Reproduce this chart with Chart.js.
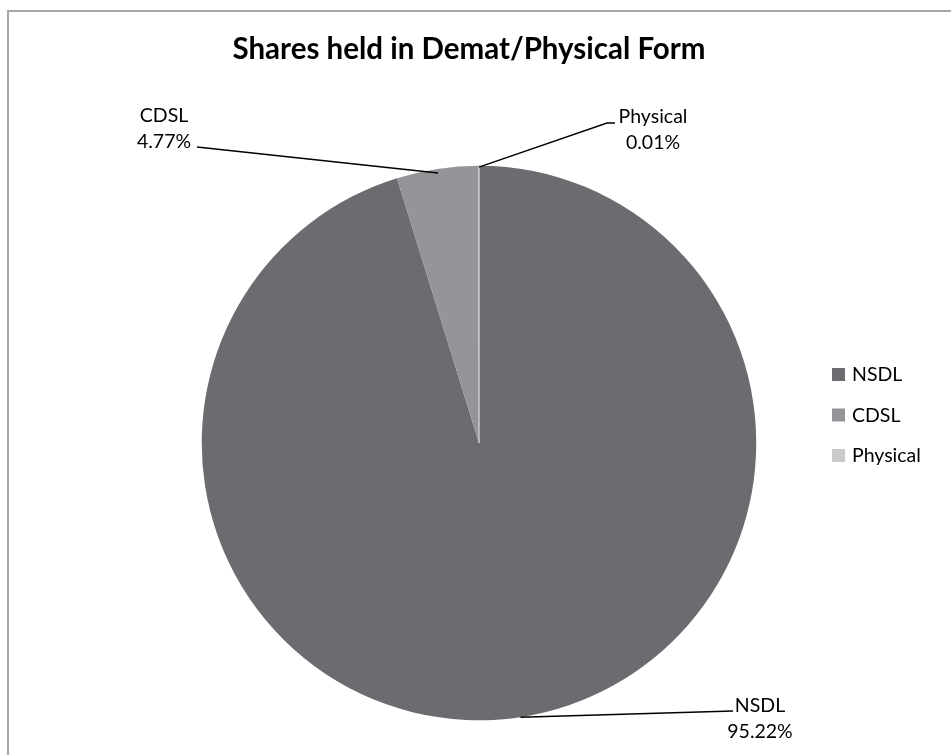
<!DOCTYPE html>
<html>
<head>
<meta charset="utf-8">
<title>Shares held in Demat/Physical Form</title>
<script src="https://cdn.jsdelivr.net/npm/chart.js@4/dist/chart.umd.min.js"></script>
<style>
html, body { margin: 0; padding: 0; background: #fff; }
#wrap { position: relative; width: 951px; height: 755px; overflow: hidden; }
</style>
</head>
<body>
<div id="wrap"><canvas id="myChart" width="951" height="755"></canvas></div>
<script>
var categories = ['NSDL', 'CDSL', 'Physical'];
var shares = [95.22, 4.77, 0.01];
var sliceColors = ['#6b6c70', '#949598', '#c9cacc'];
var chartTitle = 'Shares held in Demat/Physical Form';

// data label placement: how far in the slice the leader starts, its bends, text centre + baseline
var labelSpots = [
    {reach: 1.0,   path: [[733, 711]],             text: [760, 712]},
    {reach: 0.985, path: [[197, 147]],             text: [164, 122]},
    {reach: 0.995, path: [[607, 123], [615, 123]], text: [653, 123]}
];
var labelFont = '19.5px Lato';

    //title, frame, leader lines, data labels and legend
var extras = {
    id: 'extras',
    afterDraw: function(chart) {
        var ctx = chart.ctx;
        var total = shares.reduce(function(a, b) { return a + b; }, 0);
        ctx.save();

        ctx.strokeStyle = '#a6a6a6';
        ctx.lineWidth = 2;
        ctx.strokeRect(8, 11, 1200, 1200);

        ctx.fillStyle = '#000';
        ctx.textAlign = 'center';
        ctx.textBaseline = 'alphabetic';
        ctx.font = 'bold 29.5px Lato';
        ctx.fillText(chartTitle, 469, 59);

        var arcs = chart.getDatasetMeta(0).data;
        ctx.font = labelFont;
        ctx.strokeStyle = '#000';
        ctx.lineWidth = 1.5;
        arcs.forEach(function(arc, i) {
            var p = arc.getProps(['x', 'y', 'startAngle', 'endAngle', 'outerRadius'], true);
            var mid = (p.startAngle + p.endAngle) / 2;
            var r = p.outerRadius * labelSpots[i].reach;
            ctx.beginPath();
            ctx.moveTo(p.x + Math.cos(mid) * r, p.y + Math.sin(mid) * r);
            labelSpots[i].path.forEach(function(pt) { ctx.lineTo(pt[0], pt[1]); });
            ctx.stroke();

            var t = labelSpots[i].text;
            ctx.fillText(categories[i], t[0], t[1]);
            ctx.fillText((shares[i] / total * 100).toFixed(2) + '%', t[0], t[1] + 26);
        });

        ctx.textAlign = 'left';
        categories.forEach(function(name, i) {
            var y = 368 + i * 40.5;
            ctx.fillStyle = sliceColors[i];
            ctx.fillRect(832, y, 13, 13);
            ctx.fillStyle = '#000';
            ctx.fillText(name, 852, y + 13);
        });

        ctx.restore();
    }
};

var ctx = document.getElementById('myChart').getContext('2d');
var chart = new Chart(ctx, {
    type: 'pie',
    data: {
        labels: categories,
        datasets: [{
            data: shares,
            backgroundColor: sliceColors,
            borderColor: ['#ffffff', '#ffffff', '#c9cacc'],
            borderWidth: [0, 0, 1.5]
        }]
    },
    options: {
        responsive: false,
        animation: false,
        events: [],
        layout: {
            padding: {left: 201, right: 194, top: 165, bottom: 34}
        },
        plugins: {
            legend: {display: false},
            title: {display: false},
            tooltip: {enabled: false}
        }
    },
    plugins: [extras]
});
</script>
</body>
</html>
